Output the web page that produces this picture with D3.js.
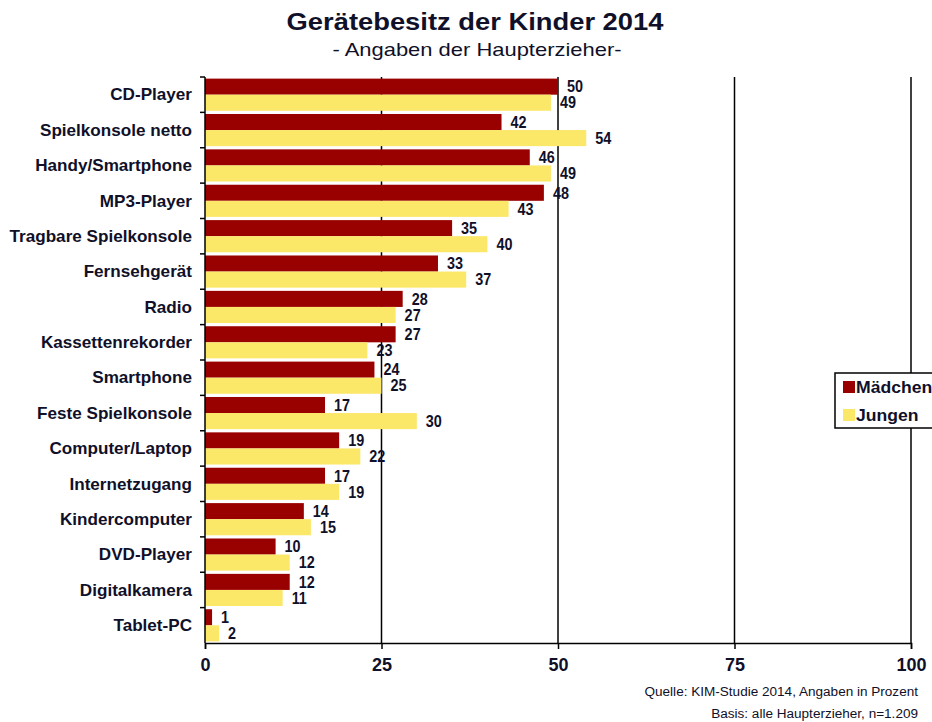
<!DOCTYPE html>
<html>
<head>
<meta charset="utf-8">
<script src="https://cdn.jsdelivr.net/npm/d3@7"></script>
<style>
  body { margin: 0; background: #fff; }
  text { font-family: "Liberation Sans", Arial, sans-serif; fill: #101028; }
</style>
</head>
<body>
<div id="chart"></div>
<script>
const width = 932;
const height = 722;
const MARGIN_LEFT = 205;
const MARGIN_RIGHT = 21;
const MARGIN_TOP = 77;
const MARGIN_DOWN = 79;

// data
const categories = ["CD-Player", "Spielkonsole netto", "Handy/Smartphone", "MP3-Player",
    "Tragbare Spielkonsole", "Fernsehgerät", "Radio", "Kassettenrekorder", "Smartphone",
    "Feste Spielkonsole", "Computer/Laptop", "Internetzugang", "Kindercomputer",
    "DVD-Player", "Digitalkamera", "Tablet-PC"];
const series = ["Mädchen", "Jungen"];
const maedchen = [50, 42, 46, 48, 35, 33, 28, 27, 24, 17, 19, 17, 14, 10, 12, 1];
const jungen = [49, 54, 49, 43, 40, 37, 27, 23, 25, 30, 22, 19, 15, 12, 11, 2];
const xTicks = [0, 25, 50, 75, 100];

const colors = { "Mädchen": "#990000", "Jungen": "#fbe768" };

var rows = categories.map((c, i) => ({ cat: c, "Mädchen": maedchen[i], "Jungen": jungen[i] }));

// the original text is drawn a bit wider/narrower than Arial, so stretch it
function placeText(sel, x, y, sx) {
    sel.attr('x', 0).attr('y', 0)
        .attr('transform', function(d, i) {
            var px = typeof x === 'function' ? x(d, i) : x;
            var py = typeof y === 'function' ? y(d, i) : y;
            return `translate(${px}, ${py}) scale(${sx}, 1)`;
        });
}

var xScale = d3.scaleLinear()
    .domain([0, 100])
    .range([MARGIN_LEFT, width - MARGIN_RIGHT]);

var yScale = d3.scaleBand()
    .domain(categories)
    .range([MARGIN_TOP, height - MARGIN_DOWN]);

var subScale = d3.scaleBand()
    .domain(series)
    .range([0, yScale.bandwidth()])
    .paddingOuter(0.1);

var svg = d3.select('#chart')
    .append("svg")
    .attr('width', width)
    .attr('height', height);

// title
svg.append('text')
    .attr('text-anchor', 'middle')
    .attr('font-size', '24px')
    .attr('font-weight', 'bold')
    .text('Gerätebesitz der Kinder 2014')
    .call(placeText, 475, 30, 1.14);

svg.append('text')
    .attr('text-anchor', 'middle')
    .attr('font-size', '18px')
    .text('- Angaben der Haupterzieher-')
    .call(placeText, 477, 56, 1.22);

// vertical grid lines
svg.append('g')
    .selectAll('line')
    .data(xTicks.slice(1))
    .join('line')
        .attr('x1', d => xScale(d)).attr('x2', d => xScale(d))
        .attr('y1', MARGIN_TOP).attr('y2', height - MARGIN_DOWN)
        .attr('stroke', '#000')
        .attr('stroke-width', 1.5);

// bars
var groups = svg.append('g')
    .selectAll('g')
    .data(rows)
    .join('g')
        .attr('transform', d => `translate(0, ${yScale(d.cat)})`);

groups.selectAll('rect')
    .data(d => series.map(s => ({ key: s, value: d[s] })))
    .join('rect')
        .attr('x', xScale(0))
        .attr('y', d => subScale(d.key))
        .attr('width', d => xScale(d.value) - xScale(0))
        .attr('height', subScale.bandwidth())
        .attr('fill', d => colors[d.key]);

groups.selectAll('text')
    .data(d => series.map(s => ({ key: s, value: d[s] })))
    .join('text')
        .attr('dy', '0.36em')
        .attr('font-size', '16px')
        .attr('font-weight', 'bold')
        .text(d => d.value)
        .call(placeText, d => xScale(d.value) + 9,
              d => subScale(d.key) + subScale.bandwidth() / 2, 0.9);

// axes
var xAxis = svg.append('g')
    .attr('transform', `translate(0, ${height - MARGIN_DOWN})`)
    .call(d3.axisBottom(xScale).tickValues(xTicks).tickSize(6).tickPadding(9));
xAxis.select('.domain').attr('stroke-width', 1.5);
xAxis.selectAll('line').attr('stroke-width', 1.5);
xAxis.selectAll('text')
    .attr('font-size', '18px')
    .attr('font-weight', 'bold')
    .attr('font-family', '"Liberation Sans", Arial, sans-serif')
    .attr('fill', '#101028');

var yAxis = svg.append('g')
    .attr('transform', `translate(${MARGIN_LEFT}, 0)`);
yAxis.append('line')
    .attr('x1', 0).attr('x2', 0)
    .attr('y1', MARGIN_TOP).attr('y2', height - MARGIN_DOWN)
    .attr('stroke', '#000').attr('stroke-width', 1.5);
yAxis.selectAll('.tk')
    .data(categories)
    .join('line')
        .attr('class', 'tk')
        .attr('x1', -5).attr('x2', 0)
        .attr('y1', d => yScale(d)).attr('y2', d => yScale(d))
        .attr('stroke', '#000').attr('stroke-width', 1.5);
yAxis.selectAll('text')
    .data(categories)
    .join('text')
        .attr('dy', '0.36em')
        .attr('text-anchor', 'end')
        .attr('font-size', '16px')
        .attr('font-weight', 'bold')
        .text(d => d)
        .call(placeText, -13, d => yScale(d) + yScale.bandwidth() / 2, 1.07);

// legend
var legend = svg.append('g')
    .attr('transform', 'translate(835, 373)');
legend.append('rect')
    .attr('width', 110).attr('height', 55)
    .attr('fill', '#fff')
    .attr('stroke', '#000').attr('stroke-width', 1.5);
var entries = legend.selectAll('g')
    .data(series)
    .join('g')
        .attr('transform', (d, i) => `translate(8, ${14 + i * 28})`);
entries.append('rect')
    .attr('y', -6)
    .attr('width', 12).attr('height', 12)
    .attr('fill', d => colors[d]);
entries.append('text')
    .attr('dy', '0.36em')
    .attr('font-size', '16px')
    .attr('font-weight', 'bold')
    .text(d => d)
    .call(placeText, 13, 0, 1.1);

// source
svg.append('text')
    .attr('text-anchor', 'end')
    .attr('font-size', '12px')
    .text('Quelle: KIM-Studie 2014, Angaben in Prozent')
    .call(placeText, 918, 696, 1.13);
svg.append('text')
    .attr('text-anchor', 'end')
    .attr('font-size', '12px')
    .text('Basis: alle Haupterzieher, n=1.209')
    .call(placeText, 918, 718, 1.13);
</script>
</body>
</html>
